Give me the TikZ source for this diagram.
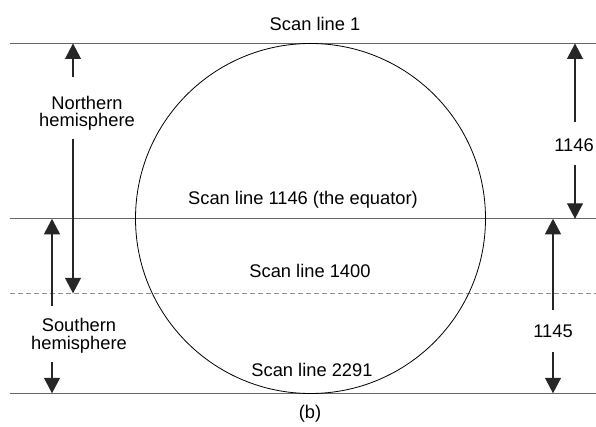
\documentclass[tikz,border=0pt]{standalone}
\usepackage{fontspec}
\setmainfont{Liberation Sans}
\usetikzlibrary{arrows.meta}
\begin{document}
\begin{tikzpicture}[x=1pt,y=-1pt,
  every node/.style={inner sep=0pt, font=\fontsize{18.3}{17.5}\selectfont},
  rule/.style={draw=black!60, line width=1.1pt},
  dashrule/.style={draw=black!45, line width=1.1pt, dash pattern=on 5pt off 3pt},
  dim/.style={draw=black!85, line width=1.1pt, -{Triangle[length=15.5pt,width=16pt]}},
  lbl/.style={anchor=base},
  stack/.style={align=center}]
\useasboundingbox (0,0) rectangle (596,427);

% scan-line rules
\coordinate (topL) at (10,43.5);   \coordinate (topR) at (596,43.5);
\coordinate (eqL)  at (10,218.8);  \coordinate (eqR)  at (596,218.8);
\coordinate (midL) at (10,293.3);  \coordinate (midR) at (596,293.3);
\coordinate (botL) at (10,393.3);  \coordinate (botR) at (596,393.3);
\draw[rule] (topL) -- (topR);
\draw[rule] (eqL) -- (eqR);
\draw[dashrule] (midL) -- (midR);
\draw[rule] (botL) -- (botR);

% the Earth disc
\node[circle, draw, line width=0.8pt, minimum size=350pt] (globe) at (310.5,218.5) {};

% scan-line labels
\node[lbl] (s1)    at (315,31)  {Scan line 1};
\node[lbl] (s1146) at (303,205) {Scan line 1146 (the equator)};
\node[lbl] (s1400) at (310,277) {Scan line 1400};
\node[lbl] (s2291) at (312,376) {Scan line 2291};
\node[lbl] (cap)   at (310,418) {(b)};

% hemisphere labels and their arrows
\node[stack] (north) at (87,113.4) {Northern\\hemisphere};
\node[stack] (south) at (79,335.8) {Southern\\hemisphere};
\coordinate (nA) at (73,77);  \coordinate (nB) at (73,139);
\coordinate (sA) at (52,306); \coordinate (sB) at (52,362);
\draw[dim] (nA) -- (nA |- topL);
\draw[dim] (nB) -- (nB |- midL);
\draw[dim] (sA) -- (sA |- eqL);
\draw[dim] (sB) -- (sB |- botL);

% line counts
\node[lbl] (n1146) at (574,151.7) {1146};
\node[lbl] (n1145) at (553,337.7) {1145};
\coordinate (rA) at (575,122); \coordinate (rB) at (575,165);
\coordinate (qA) at (553,310); \coordinate (qB) at (553,352);
\draw[dim] (rA) -- (rA |- topL);
\draw[dim] (rB) -- (rB |- eqL);
\draw[dim] (qA) -- (qA |- eqL);
\draw[dim] (qB) -- (qB |- botL);
\end{tikzpicture}
\end{document}
